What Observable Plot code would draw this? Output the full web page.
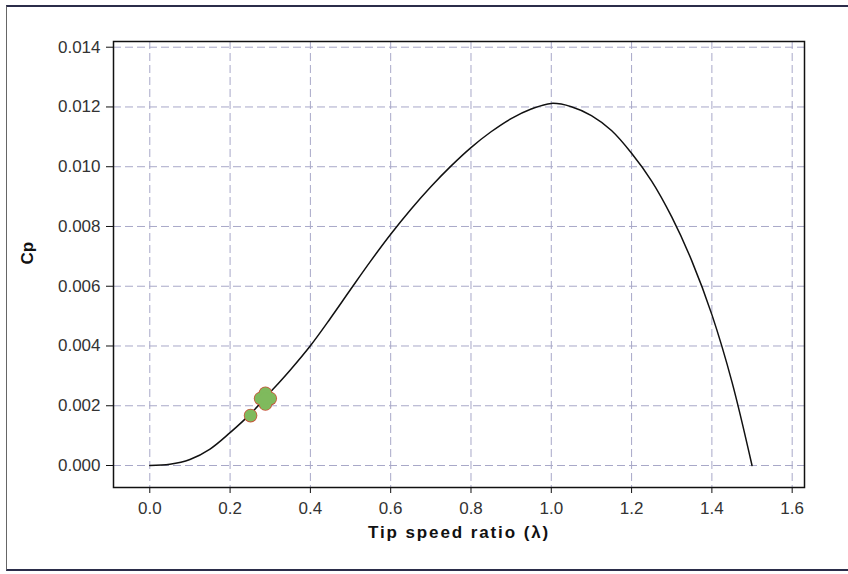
<!DOCTYPE html>
<html>
<head>
<meta charset="utf-8">
<script src="https://cdn.jsdelivr.net/npm/d3@7"></script>
<script src="https://cdn.jsdelivr.net/npm/@observablehq/plot@0.6"></script>
<style>
  html, body { margin: 0; padding: 0; background: #fff; }
  #wrap { position: relative; width: 848px; height: 574px; overflow: hidden; }
  #border { position: absolute; left: 6px; top: 5px; width: 850px; height: 562px;
            border-top: 2px solid #2b2d4a; border-bottom: 2px solid #2b2d4a; border-left: 1px solid #666; }
  #chart { position: absolute; left: 0; top: 0; }
</style>
</head>
<body>
<div id="wrap"><div id="border"></div><div id="chart"></div></div>
<script>
// Tip speed ratio (λ) and power coefficient Cp
const lambdaVals = [0, 0.05, 0.1, 0.15, 0.2, 0.25, 0.3, 0.35, 0.4, 0.45, 0.5, 0.55, 0.6, 0.65, 0.7, 0.75, 0.8, 0.85, 0.9, 0.95, 1.0, 1.05, 1.1, 1.15, 1.2, 1.25, 1.3, 1.35, 1.4, 1.45, 1.5];
const cpVals = [0, 0.00004, 0.0002, 0.00055, 0.0011, 0.00172, 0.00245, 0.0032, 0.00401, 0.00493, 0.00589, 0.00684, 0.00774, 0.00857, 0.00933, 0.01002, 0.01064, 0.01117, 0.01161, 0.01193, 0.01212, 0.01201, 0.01171, 0.01121, 0.01045, 0.00952, 0.00832, 0.00685, 0.00505, 0.0028, 0];
// Green measured points
const markerLambda = [0.251, 0.276, 0.300, 0.288, 0.288, 0.288];
const markerCp = [0.00167, 0.00224, 0.00224, 0.00206, 0.00242, 0.00224];
// Axis ticks
const xTicks = [0, 0.2, 0.4, 0.6, 0.8, 1.0, 1.2, 1.4, 1.6];
const yTicks = [0, 0.002, 0.004, 0.006, 0.008, 0.010, 0.012, 0.014];
const xTitle = "Tip speed ratio (λ)";
const yTitle = "Cp";

const curve = lambdaVals.map((l, i) => ({l, cp: cpVals[i]}));
const markers = markerLambda.map((l, i) => ({l, cp: markerCp[i]}));

const chart = Plot.plot({
  width: 848,
  height: 574,
  marginLeft: 113,
  marginRight: 44,
  marginTop: 41,
  marginBottom: 87,
  style: {fontFamily: "Arial, 'Liberation Sans', sans-serif", fontSize: "17px", color: "#333", background: "transparent"},
  x: {domain: [-0.0904, 1.6307], ticks: xTicks, tickFormat: d3.format(".1f")},
  y: {domain: [-0.000736, 0.014191], ticks: yTicks, tickFormat: d3.format(".3f")},
  marks: [
    Plot.gridX(xTicks, {stroke: "#a8a8c8", strokeOpacity: 1, strokeDasharray: "8,4"}),
    Plot.gridY(yTicks, {stroke: "#a8a8c8", strokeOpacity: 1, strokeDasharray: "8,4"}),
    Plot.axisX(xTicks, {tickSize: 6, tickPadding: 8, stroke: "#111", tickFormat: d3.format(".1f"), label: null}),
    Plot.axisY(yTicks, {tickSize: 7, tickPadding: 6, stroke: "#111", tickFormat: d3.format(".3f"), label: null}),
    Plot.text([xTitle], {frameAnchor: "bottom", dy: 38, fontWeight: "bold", fontSize: 17, fill: "#111", lineAnchor: "top"}),
    Plot.text([yTitle], {frameAnchor: "left", dx: -86, rotate: -90, fontWeight: "bold", fontSize: 17, fill: "#111"}),
    Plot.frame({stroke: "#111", strokeWidth: 1.5}),
    Plot.line(curve, {x: "l", y: "cp", curve: "catmull-rom", stroke: "#111", strokeWidth: 1.5}),
    Plot.dot(markers, {x: "l", y: "cp", r: 6.8, fill: "#c8553a", stroke: "none"}),
    Plot.dot(markers, {x: "l", y: "cp", r: 6, fill: "#7fba5d", stroke: "none"})
  ]
});
chart.querySelectorAll("text").forEach(t => {
  if (t.textContent === xTitle) t.style.letterSpacing = "1.9px";
});
document.getElementById("chart").appendChild(chart);
</script>
</body>
</html>
